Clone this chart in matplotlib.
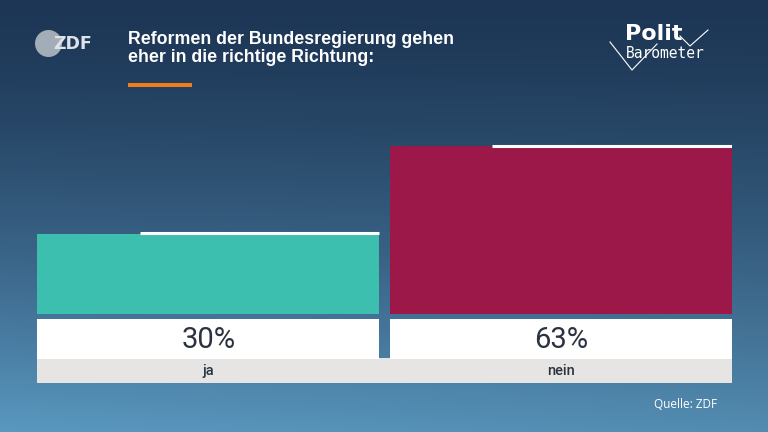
import numpy as np
import matplotlib
matplotlib.use("Agg")
import matplotlib.pyplot as plt
from matplotlib.patches import Rectangle, Ellipse
from matplotlib.lines import Line2D

# ---- data ----
categories = ["ja", "nein"]
values = [30, 63]
previous = [30.3, 63]
value_labels = ["30%", "63%"]
bar_colors = ["#3dbfb0", "#9c1848"]
title = "Reformen der Bundesregierung gehen\neher in die richtige Richtung:"
source = "Quelle: ZDF"

W, H = 768, 432
fig = plt.figure(figsize=(W / 100, H / 100), dpi=100)

def fx(px):
    return px / W

def fy(py):
    return 1 - py / H

# ---- background gradient ----
bg = fig.add_axes([0, 0, 1, 1])
bg.set_axis_off()
yy, xx = np.mgrid[0:1:200j, 0:1:300j]
top = np.array([29, 54, 85]) / 255
bot = np.array([90, 152, 192]) / 255
t = np.clip(yy ** 1.4, 0, 1)
img = top[None, None, :] * (1 - t[..., None]) + bot[None, None, :] * t[..., None]
img = img * (1 - 0.08 * xx[..., None] * yy[..., None])
bg.imshow(img, aspect="auto", extent=[0, 1, 1, 0], origin="upper")
bg.set_xlim(0, 1)
bg.set_ylim(1, 0)

# ---- bars axes ----
w = 0.9716
ax_left, ax_right = 37, 732
base_y = 314
px_per_pct = 2.66
ax_h = 100 * px_per_pct
ax = fig.add_axes([fx(ax_left), fy(base_y), (ax_right - ax_left) / W, ax_h / H])
ax.set_axis_off()
ax.set_facecolor("none")
x = np.arange(len(categories))
ax.bar(x, values, width=w, color=bar_colors, zorder=2)
for xi, pv in zip(x, previous):
    left = xi - w / 2 + w * 0.30
    ax.plot([left, xi + w / 2], [pv, pv], color="white", lw=2.2, solid_capstyle="butt", zorder=3)
ax.set_xlim(-w / 2, 1 + w / 2)
ax.set_ylim(0, 100)

# ---- value boxes and labels ----
bx = fig.add_axes([fx(ax_left), fy(383), (ax_right - ax_left) / W, (383 - 319) / H])
bx.set_axis_off()
bx.set_xlim(-w / 2, 1 + w / 2)
bx.set_ylim(383, 319)
bx.add_patch(Rectangle((-w / 2, 358), 1 + w, 25, color="#e6e5e4", lw=0))
for xi, vl, cat in zip(x, value_labels, categories):
    bx.add_patch(Rectangle((xi - w / 2, 319), w, 39.5, color="white", lw=0))
    bx.text(xi, 339.5, vl, ha="center", va="center", fontsize=21,
            family="Roboto", weight="normal", color="#2b3340")
    bx.text(xi, 371, cat, ha="center", va="center", fontsize=10.5,
            family="Roboto", weight="medium", color="#2b3340")

# ---- title & decorations ----
fig.text(fx(128), fy(31), title, ha="left", va="top", fontsize=12.8,
         family="Liberation Sans", weight="bold", color="white", linespacing=1.1)
fig.add_artist(Rectangle((fx(128), fy(87)), fx(64), 4 / H, color="#f07d1e",
                         transform=fig.transFigure, lw=0))

# ZDF logo
fig.add_artist(Ellipse((fx(48.5), fy(43.5)), 27 / W, 27 / H, transform=fig.transFigure,
                       color="#a3adb8", lw=0))
fig.text(fx(53), fy(44), "ZDF", ha="left", va="center", fontsize=12.5,
         family="DejaVu Sans", color="#dfe3e8", weight="bold")

# Polit Barometer logo
pts1 = [(610, 42), (632, 70), (657, 44)]
pts2 = [(680, 36), (690, 46), (708, 30)]
for pts in (pts1, pts2):
    fig.add_artist(Line2D([fx(p[0]) for p in pts], [fy(p[1]) for p in pts],
                          transform=fig.transFigure, color="white", lw=0.8))
fig.text(fx(625), fy(34), "Polit", ha="left", va="center", fontsize=16,
         family="DejaVu Sans", weight="bold", color="white")
fig.text(fx(626), fy(54), "Barometer", ha="left", va="center", fontsize=10.5,
         family="DejaVu Sans Mono", color="white")

fig.text(fx(717), fy(404), source, ha="right", va="center", fontsize=8.5,
         family="Open Sans", color="white")

fig.savefig("out.png", dpi=100)
